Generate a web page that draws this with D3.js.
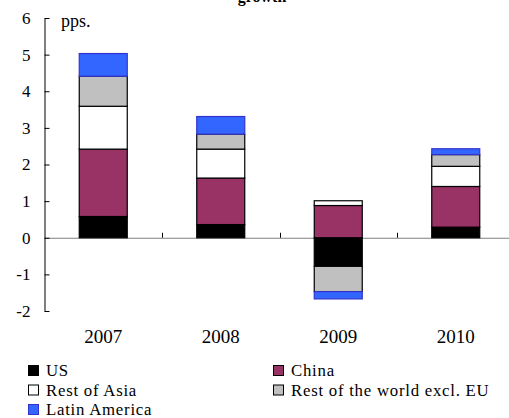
<!DOCTYPE html>
<html><head><meta charset="utf-8">
<script src="https://cdn.jsdelivr.net/npm/d3@7"></script>
<style>body{margin:0;background:#fff}svg{display:block}text{font-family:"Liberation Serif","Times New Roman",serif;fill:#000}</style>
</head><body><svg id="c" width="509" height="418"></svg>
<script>
const categories = ["2007","2008","2009","2010"];
const seriesNames = ["US","China","Rest of Asia","Rest of the world excl. EU","Latin America"];
const US     = [0.58, 0.36, -0.78, 0.29];
const China  = [1.84, 1.27, 0.88, 1.11];
const RestAsia = [1.17, 0.79, 0.13, 0.55];
const RestWorld = [0.82, 0.41, -0.69, 0.32];
const LatAm  = [0.62, 0.48, -0.20, 0.16];
const yTicks = [-2,-1,0,1,2,3,4,5,6];
const colors = ["#000000","#993366","#FFFFFF","#C0C0C0","#3366FF"];
const strokes = ["#000","#000","#000","#000","#3333CC"];
const title = "growth";
const unitLabel = "pps.";

const seriesArrays = [US, China, RestAsia, RestWorld, LatAm];
const rows = categories.map((c,i)=>{const o={cat:c}; seriesNames.forEach((s,j)=>o[s]=seriesArrays[j][i]); return o;});
const stacked = d3.stack().keys(seriesNames).offset(d3.stackOffsetDiverging)(rows);

const svg = d3.select("#c");
const x0 = 44.5, x1 = 514.5;
const x = d3.scaleBand().domain(categories).range([x0, x1]).paddingInner(0).paddingOuter(0);
const y = d3.scaleLinear().domain([-2,6]).range([311, 18]);
const barW = 48;

svg.append("text").attr("x",262).attr("y",2).attr("text-anchor","middle")
  .style("font-weight","bold").style("font-size","16px").text(title);

// zero line
svg.append("line").attr("x1",x0).attr("x2",509).attr("y1",y(0)+0.5).attr("y2",y(0)+0.5)
  .attr("stroke","#808080").attr("stroke-width",1);
// category ticks on zero line
svg.selectAll(".ct").data(categories.slice(1)).enter().append("line")
  .attr("x1",d=>Math.round(x(d))+0.5).attr("x2",d=>Math.round(x(d))+0.5)
  .attr("y1",y(0)).attr("y2",y(0)-5).attr("stroke","#000");

// bars
const g = svg.append("g");
stacked.forEach((s,j)=>{
  g.selectAll(".b"+j).data(s).enter().append("rect")
    .attr("x",d=>x(d.data.cat)+x.bandwidth()/2-barW/2)
    .attr("width",barW)
    .attr("y",d=>y(Math.max(d[0],d[1])))
    .attr("height",d=>Math.abs(y(d[0])-y(d[1])))
    .attr("fill",colors[j]).attr("stroke",strokes[j]).attr("stroke-width",1.2);
});

// y axis
const ax = svg.append("g").attr("transform",`translate(${x0},0)`)
  .call(d3.axisLeft(y).tickValues(yTicks).tickFormat(d=>String(d)).tickSize(-5).tickSizeOuter(0).tickPadding(14));
ax.select(".domain").attr("stroke","#000");
ax.selectAll(".tick line").attr("stroke","#000");
ax.selectAll("text").style("font-size","17px").style("font-family","Liberation Serif");

svg.append("text").attr("x",61).attr("y",27).style("font-size","18px").text(unitLabel);

// category labels
svg.selectAll(".cl").data(categories).enter().append("text")
  .attr("x",d=>x(d)+x.bandwidth()/2).attr("y",343).attr("text-anchor","middle")
  .style("font-size","19px").text(d=>d);

// legend
const legPos = [[28,370.5],[273,370.5],[28,390],[273,390],[28,409.5]];
seriesNames.forEach((s,j)=>{
  const [lx,ly]=legPos[j];
  svg.append("rect").attr("x",lx+0.5).attr("y",ly-5).attr("width",10).attr("height",10)
    .attr("fill",colors[j]).attr("stroke",j===4?"#3333CC":"#000").attr("stroke-width",1);
  svg.append("text").attr("x",lx+18).attr("y",ly+5.5).style("font-size","16.8px")
    .style("letter-spacing","0.75px").text(s);
});
</script></body></html>
